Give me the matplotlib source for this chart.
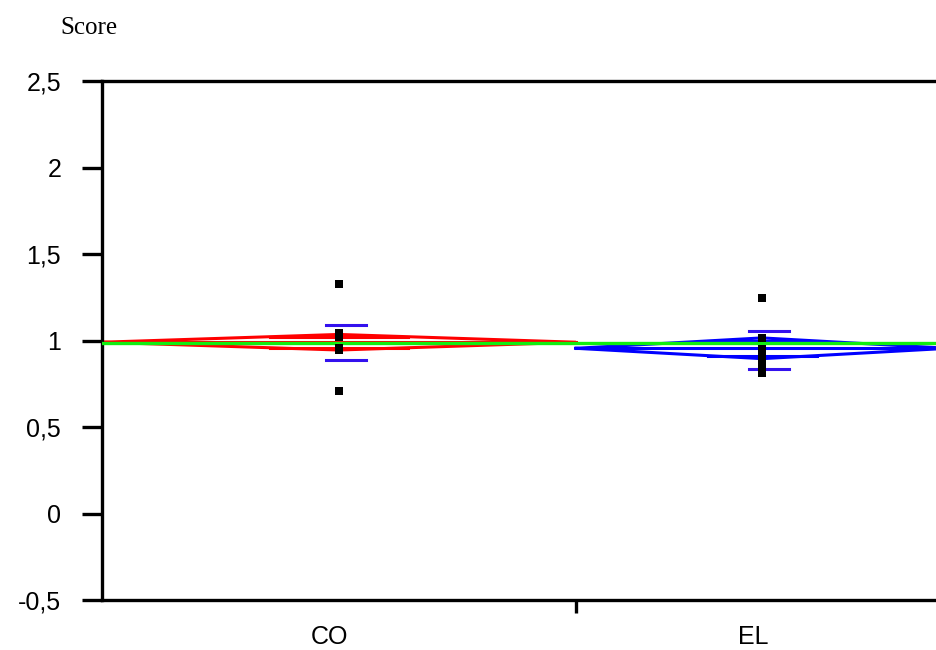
import numpy as np
import matplotlib
matplotlib.use("Agg")
import matplotlib.pyplot as plt
from matplotlib import transforms

# ---- data ----
groups = ["CO", "EL"]
group_width = [1.0, 0.785]           # relative width of each group on the x axis
co_points = [1.328, 1.043, 1.02, 0.957, 0.945, 0.71]
el_points = [1.245, 1.012, 0.95, 0.925, 0.895, 0.875, 0.83, 0.81]
group_means = [0.99, 0.955]
ci_half = [0.045, 0.06]
err_low = [0.888, 0.836]
err_high = [1.087, 1.054]
grand_mean = 0.986
ytick_values = [-0.5, 0, 0.5, 1, 1.5, 2, 2.5]
ytick_labels = ["-0,5", "0", "0,5", "1", "1,5", "2", "2,5"]
y_title = "Score"

diamond_colors = ["#ff0000", "#0000ff"]
errbar_color = "#3311ee"
grand_color = "#11ee11"

W, H = 937, 650
fig = plt.figure(figsize=(W / 100, H / 100), dpi=100)
ax_left = 102 / W
ax_bottom = 1 - 600 / H
ax_top = 1 - 81 / H
ax = fig.add_axes([ax_left, ax_bottom, 1 - ax_left, ax_top - ax_bottom])

edges = np.concatenate([[0], np.cumsum(group_width)])
centers = (edges[:-1] + edges[1:]) / 2
px_per_unit = 474.0
ax.set_xlim(0, (W - 102) / px_per_unit)
ax.set_ylim(-0.5, 2.5)

lw = 2.2
all_points = [co_points, el_points]
for i in range(len(groups)):
    l, r, c = edges[i], edges[i + 1], centers[i]
    m, h = group_means[i], ci_half[i]
    col = diamond_colors[i]
    # diamond
    ax.plot([l, c, r, c, l], [m, m + h, m, m - h, m], color=col, lw=lw,
            solid_joinstyle="miter", zorder=2)
    # mean line
    ax.plot([l, r], [m, m], color=col, lw=lw, zorder=2)
    # overlap marks
    half_w = (r - l) / 2
    d = half_w * (1 - 1 / np.sqrt(2))
    for s in (1, -1):
        ax.plot([c - d, c + d], [m + s * h / np.sqrt(2)] * 2, color=col, lw=lw, zorder=2)

# grand mean
ax.plot([edges[0], edges[-1]], [grand_mean, grand_mean], color=grand_color, lw=2.4, zorder=3)

# error bars (slightly offset right)
off = transforms.offset_copy(ax.transData, fig=fig, x=7, y=0, units="dots")
for i in range(len(groups)):
    c = centers[i]
    hw = 20 / px_per_unit
    for v in (err_low[i], err_high[i]):
        ax.plot([c - hw, c + hw], [v, v], color=errbar_color, lw=2.2, transform=off, zorder=4)

# points
for i in range(len(groups)):
    pts = all_points[i]
    ax.plot([centers[i]] * len(pts), pts, linestyle="none", marker="s", markersize=5.5,
            color="black", markeredgewidth=0, zorder=5)

# spines
for s in ["left", "bottom", "top"]:
    ax.spines[s].set_linewidth(2.4)
    ax.spines[s].set_color("black")
ax.spines["right"].set_visible(False)

font = "Liberation Sans"
ax.set_yticks(ytick_values)
ax.set_yticklabels(ytick_labels, fontsize=18, family=font)
ax.tick_params(axis="y", direction="out", length=14.4, width=2.4, pad=15)

ax.set_xticks(edges[1:-1])
ax.set_xticklabels([])
ax.tick_params(axis="x", direction="out", length=9, width=2.4)

# group labels
lab_tr = transforms.offset_copy(ax.get_xaxis_transform(), fig=fig, x=-9, y=-44, units="dots")
for i, g in enumerate(groups):
    ax.text(centers[i], 0, g, transform=lab_tr, ha="center", va="baseline",
            fontsize=18, family=font)

fig.text(60 / W, 1 - 34 / H, y_title, family="Liberation Serif", fontsize=18,
         ha="left", va="baseline")

fig.savefig("out.png", dpi=100)
